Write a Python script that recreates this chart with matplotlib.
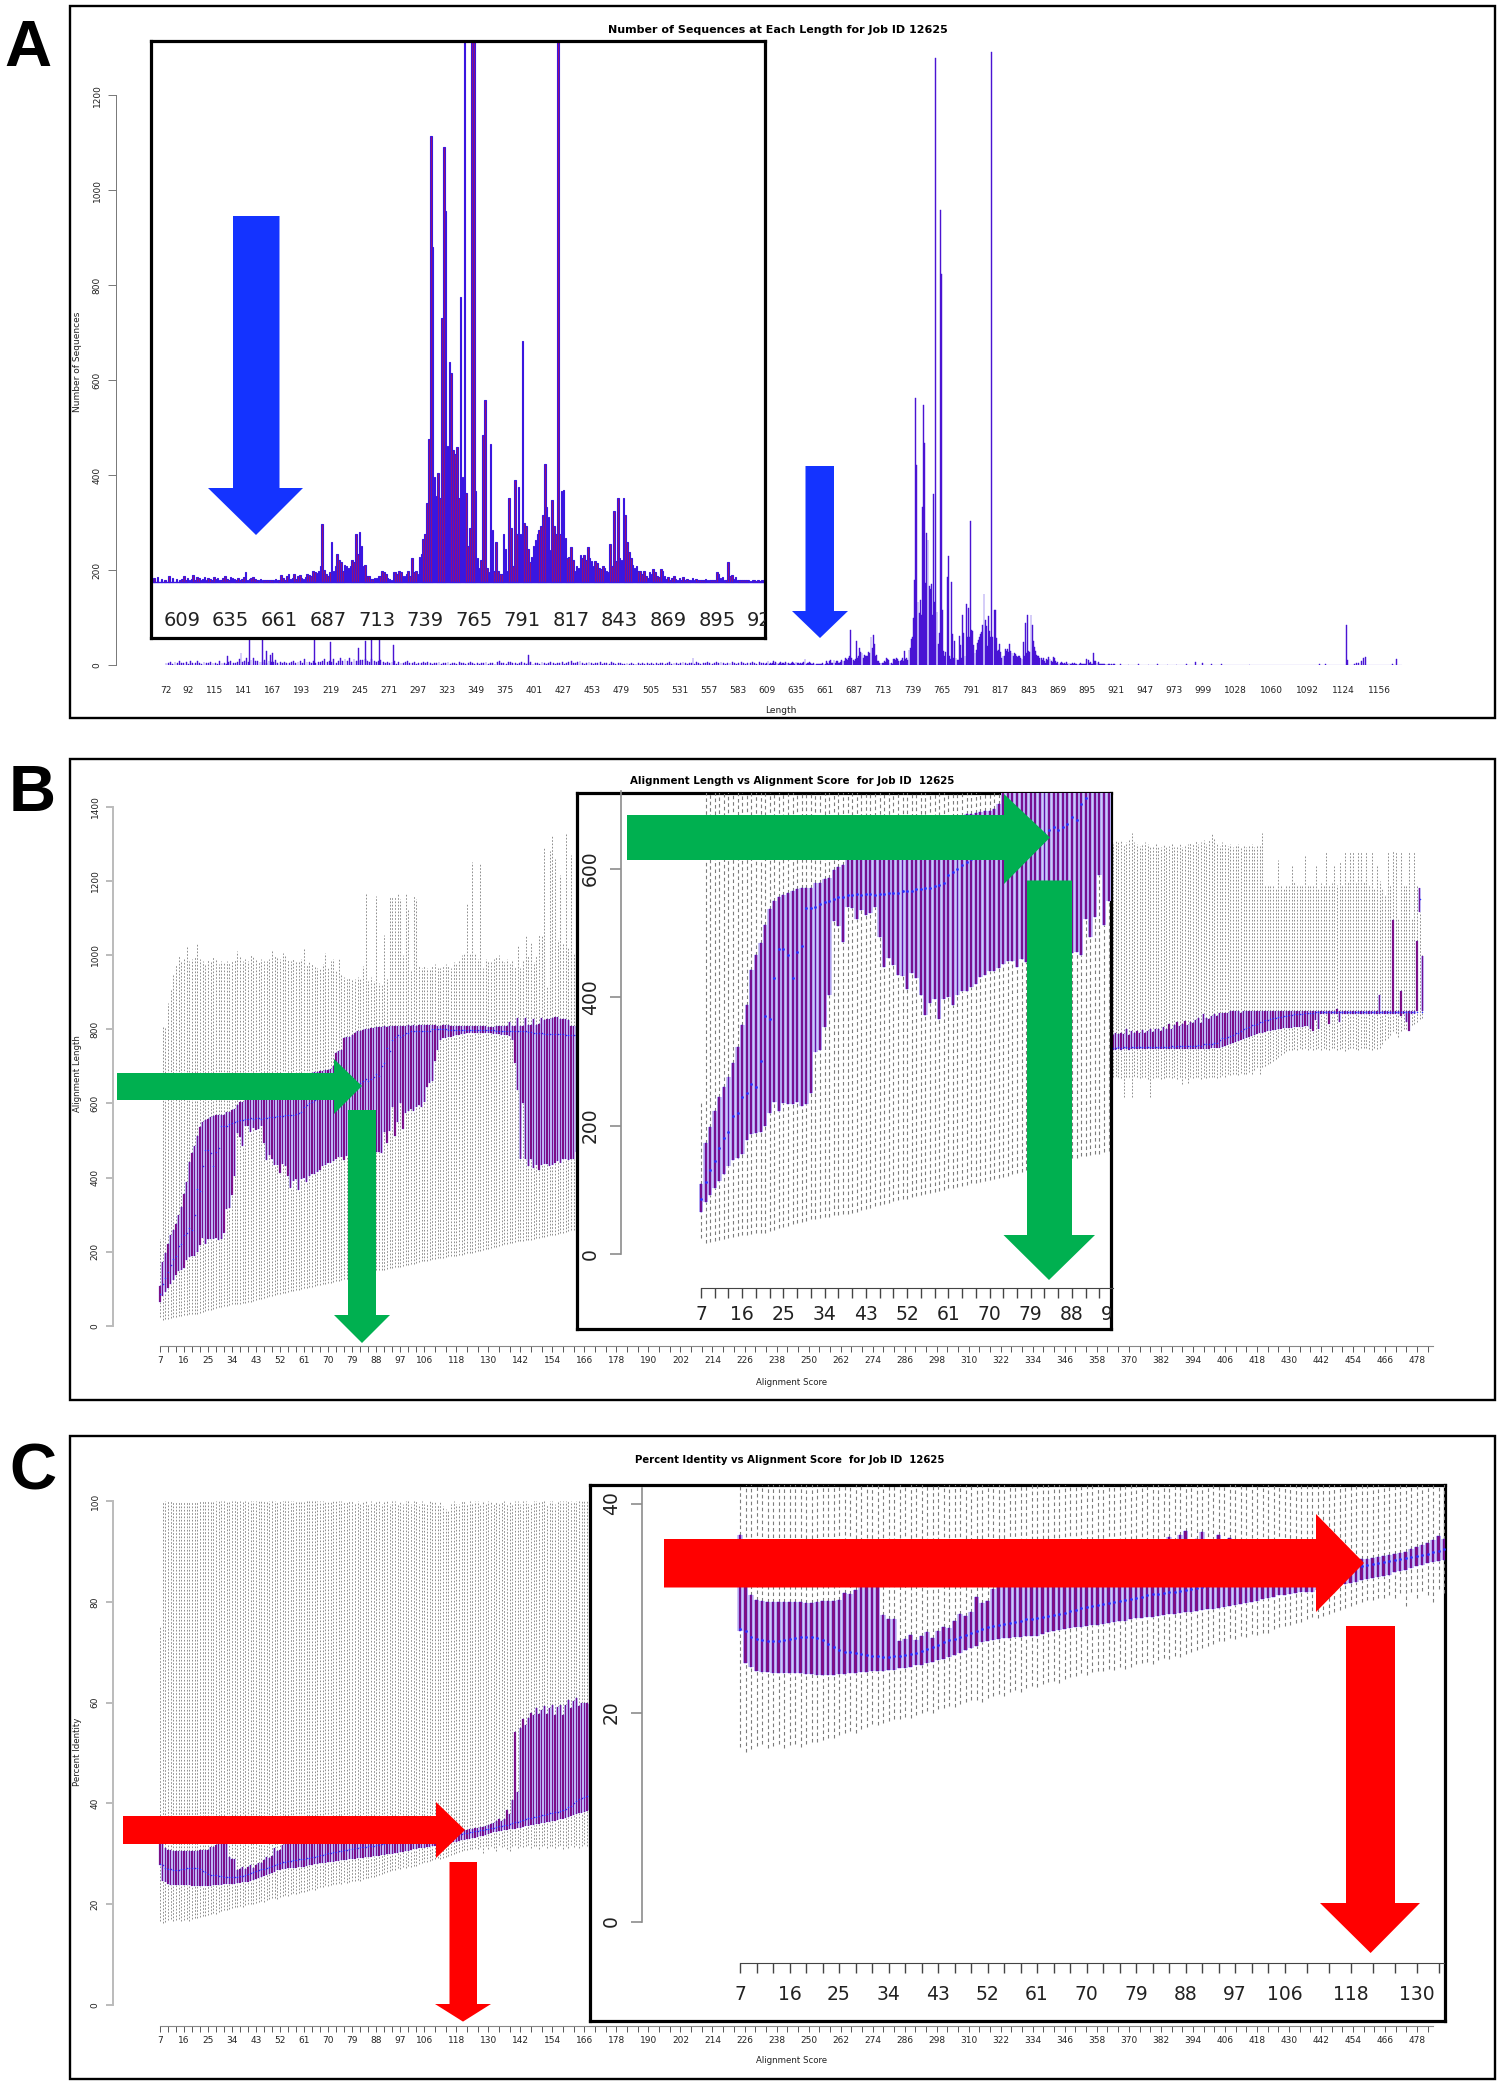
import numpy as np
import matplotlib
matplotlib.use('Agg')
import matplotlib.pyplot as plt
from matplotlib.patches import Polygon, Rectangle

W, H = 1500, 2086

# ---- panel A, sequences per length
low_lengths = list(range(72, 609, 2))
low_counts = [5,4,6,3,7,4,8,5,4,6,
              3,8,5,4,9,5,3,6,4,5,
              7,4,5,3,9,5,4,3,6,8,
              5,4,7,12,6,8,15,7,10,14,
              8,9,6,7,11,5,8,6,7,10,
              4,6,5,7,4,5,6,9,5,6,
              8,5,12,7,6,5,8,5,7,6,
              8,13,6,9,7,12,5,8,14,9,
              12,8,15,7,13,9,8,11,10,13,
              8,6,12,9,7,8,10,6,4,7,
              5,6,8,3,7,5,4,6,8,5,
              4,6,3,5,4,7,4,6,5,3,
              4,5,7,3,5,4,6,3,5,4,
              3,6,4,5,3,4,7,5,3,4,
              3,5,4,6,3,4,5,3,6,9,
              4,5,3,6,7,4,5,3,4,6,
              5,3,4,6,3,5,4,3,6,4,
              3,5,6,4,3,5,4,6,3,4,
              6,8,5,4,6,9,4,3,5,7,
              4,3,5,4,6,3,5,4,3,6,
              4,3,5,4,3,2,4,3,5,3,
              2,4,3,5,2,4,3,5,3,4,
              3,5,4,3,4,6,3,4,5,3,
              4,6,5,3,4,5,3,6,4,3,
              5,4,6,5,3,4,7,5,6,4,
              3,4,5,7,4,3,5,6,4,3,
              4,5,6,4,3,7,5,4,3]
spike_lengths = [127,139,147,158,162,165,167,205,219,244,250,256,263,275,396,543]
spike_counts = [20,26,75,62,30,22,25,62,48,35,50,62,60,42,22,15]
mid_lengths = list(range(609, 922))
mid_counts = [4,8,3,5,2,4,9,3,6,5,
              3,4,6,2,5,4,3,6,4,5,
              2,3,5,7,4,3,6,5,4,3,
              5,3,4,6,13,3,4,5,6,4,
              3,2,4,3,2,3,2,2,3,2,
              4,2,3,9,5,3,8,10,4,5,
              10,4,8,9,5,4,6,10,9,8,14,
              12,11,14,20,73,15,10,8,12,50,
              14,20,35,28,25,14,22,20,18,20,
              28,25,60,35,63,45,20,22,8,8,
              4,4,5,5,8,7,14,12,10,5,
              4,3,12,13,10,14,12,8,8,10,
              14,8,30,12,14,10,32,35,54,60,
              100,180,562,422,132,109,138,106,333,548,
              468,172,278,264,167,161,170,106,360,132,
              1280,112,45,68,958,823,115,30,18,28,
              186,229,18,12,174,65,14,51,14,10,
              10,61,42,14,106,68,20,129,60,120,
              60,304,74,71,42,25,32,46,53,60,
              65,70,85,149,95,82,40,103,71,60,
              1292,60,115,116,56,30,32,44,28,14,
              20,18,34,30,34,28,44,30,26,20,
              26,24,18,16,20,18,14,12,48,20,
              89,26,106,30,28,106,85,50,38,30,
              22,18,20,14,14,10,14,8,5,12,
              10,17,12,8,6,16,14,8,4,6,
              3,5,7,4,3,5,2,6,3,4,
              2,3,5,2,4,3,2,3,2,4,
              2,3,2,2,3,12,10,5,6,3,
              3,25,8,9,4,6,3,2,3,2,
              2,3,2,1,3,2,1,2,1,2,3,1]
high_lengths = [925,932,941,950,958,967,975,984,992,998,1006,1015,1040,1103,1108,
                1127,1128,1134,1136,1138,1140,1142,1144,1168,1172]
high_counts = [2,1,2,1,2,1,1,3,6,5,2,2,1,3,2,85,10,3,5,5,8,14,16,3,12]
a_ticks = [72,92,115,141,167,193,219,245,271,297,323,349,375,401,427,453,479,505,531,557,
           583,609,635,661,687,713,739,765,791,817,843,869,895,921,947,973,999,1028,1060,
           1092,1124,1156]
a_yticks = [0,200,400,600,800,1000,1200]
a_inset_ticks = [609,635,661,687,713,739,765,791,817,843,869,895,921]

# ---- panel B, alignment length by score, left of the inset (scores 7 to 163)
b_q1 = [66,81,92,103,114,125,137,147,150,156,
        178,186,188,190,200,219,237,222,235,234,
        234,237,231,234,250,315,318,353,403,519,
        510,486,540,538,522,535,527,531,540,494,
        447,460,450,435,433,412,437,430,403,372,
        390,397,366,397,400,387,403,409,409,415,
        420,431,435,440,440,445,451,456,456,447,
        459,455,460,458,462,460,465,462,468,465,
        470,468,470,466,522,494,525,590,512,550,
        600,530,575,580,585,580,590,595,590,605,
        645,655,660,715,745,770,775,775,780,780,
        782,785,785,788,788,790,790,790,790,790,
        790,790,790,790,790,788,788,788,785,785,
        785,782,770,710,635,450,600,450,430,450,
        425,435,420,435,438,437,430,435,440,445,
        440,450,450,447,450,450,470,450,470,455,
        455][:157]
b_q3 = [109,172,198,222,244,260,275,298,322,356,
        388,442,466,484,512,537,550,556,558,562,
        565,568,570,570,570,577,578,583,585,597,
        603,605,617,622,625,640,650,660,662,665,
        640,645,648,650,655,655,660,660,665,665,
        668,670,672,675,678,680,680,682,685,685,
        687,688,690,690,692,700,735,740,745,775,
        778,780,785,790,795,795,798,800,800,803,
        803,805,805,805,808,805,808,808,808,808,
        808,808,808,810,808,810,808,810,810,810,
        810,810,810,810,808,808,810,810,810,808,
        808,808,808,808,808,808,808,808,808,808,
        808,808,808,806,806,806,808,808,808,808,
        808,820,808,808,830,808,808,830,812,810,
        828,812,815,830,825,828,828,830,832,832,
        828,828,828,826,808,808,808]
b_med = [85,112,130,145,165,180,190,215,220,245,
         250,265,260,300,370,365,430,475,475,465,
         430,470,480,538,538,540,545,548,550,552,
         555,555,558,558,560,558,560,560,558,560,
         560,562,562,562,565,565,565,568,568,570,
         570,572,575,578,590,595,600,605,610,615,
         620,625,630,640,640,645,650,650,650,655,
         655,650,650,655,650,655,660,665,660,665,
         670,680,675,700,710,750,740,770,780,785,
         780,785,790,790,795,795,795,795,795,795,
         795,795,800,800,800,800,800,800,798,798,
         798,798,798,798,798,798,798,798,798,798,
         798,798,798,798,798,798,795,795,795,795,
         795,795,795,795,795,795,795,795,792,792,
         790,790,790,790,788,788,788,788,788,788,
         786,786,785,785,785,785,785]
b_wlo = [25,17,18,20,22,24,25,27,28,29,
         30,31,32,33,33,36,38,40,42,44,
         46,48,50,52,54,55,56,58,58,60,
         60,62,62,64,66,68,70,72,74,76,
         78,80,82,84,85,86,88,90,92,94,
         95,96,98,100,102,103,104,106,108,110,
         110,112,114,115,116,118,120,122,124,126,
         128,130,132,134,136,138,140,142,144,146,
         148,150,150,152,152,154,155,156,158,160,
         160,162,164,165,167,168,170,172,174,176,
         176,178,180,180,182,182,184,186,188,188,
         190,190,192,192,194,196,197,198,200,202,
         203,205,207,208,210,212,214,216,218,220,
         222,223,225,226,228,229,230,231,232,233,
         235,236,238,240,241,242,244,245,246,248,
         250,252,254,256,258,258,260]
b_whi = [235,805,805,870,905,950,975,1000,985,990,
         1025,985,990,995,1030,990,985,975,990,985,
         995,990,975,985,980,985,980,985,990,1010,
         995,985,990,985,1000,995,990,985,990,985,
         985,990,1010,1000,995,990,1005,1000,990,985,
         990,980,985,990,1015,975,985,975,970,965,
         965,975,1005,965,985,990,960,990,950,940,
         935,940,935,935,940,935,970,1165,930,940,
         930,1160,925,920,1055,935,1160,1160,1155,1165,
         1150,1000,1165,1120,960,1160,1150,970,965,970,
         965,960,970,975,965,965,970,975,970,965,
         980,975,985,1000,1005,1140,1005,1250,1005,990,
         1245,965,990,985,985,990,995,1000,985,980,
         990,975,985,970,1025,965,985,1050,1000,1035,
         980,1000,1055,1055,1290,915,1280,1320,1260,1040,
         1215,1030,1330,1020,1270,1005,1260]

# panel B, right of the inset (scores 364 to 480)
br_q1 = [744,744,746,744,746,746,744,746,746,746,
         746,746,746,746,746,746,746,746,746,746,
         746,746,746,746,746,746,746,746,746,746,
         746,746,746,746,746,746,746,748,748,750,
         750,752,755,758,760,762,765,768,770,773,
         775,780,782,785,788,790,790,792,794,796,
         798,798,800,800,802,802,804,804,806,806,
         806,806,808,808,800,795,825,800,842,842,
         842,815,842,842,842,820,842,842,842,842,
         842,842,842,842,842,842,842,842,842,842,
         842,842,842,842,842,842,842,842,835,842,
         820,795,842,842,849,1115,849]
br_q3 = [784,790,786,790,786,800,785,795,790,795,
         790,798,790,795,800,792,800,800,795,805,
         800,815,800,812,820,808,815,822,812,820,
         818,825,830,818,840,830,828,835,842,835,
         845,845,843,845,848,848,848,848,845,848,
         848,848,848,848,848,848,848,850,850,850,
         850,850,850,850,850,850,850,850,850,850,
         850,850,850,850,850,850,850,850,850,850,
         850,850,850,850,855,850,850,850,850,850,
         850,850,850,850,850,850,850,850,850,850,
         893,850,850,850,850,1093,850,850,904,850,
         850,850,850,850,1039,1180,996]
br_med = [750,750,752,750,752,752,750,752,752,752,
          752,752,752,752,752,752,752,752,752,752,
          752,752,755,752,755,755,755,755,755,755,
          755,755,758,755,760,760,760,760,762,762,
          770,775,775,780,782,785,790,790,795,800,
          802,805,810,812,815,820,820,825,825,828,
          830,830,832,832,835,835,838,838,840,840,
          842,842,844,844,845,845,846,846,846,846,
          846,846,846,846,846,846,846,846,846,846,
          846,846,846,846,846,846,846,846,846,846,
          846,846,846,846,846,846,846,846,846,846,
          846,846,846,846,846,1150,846]
br_wlo = [670,675,672,668,616,670,672,616,675,670,
          668,672,670,665,616,668,670,672,665,668,
          670,672,668,670,665,670,652,668,655,672,
          668,670,672,665,670,668,670,672,670,668,
          672,676,672,680,676,678,680,676,682,678,
          680,685,680,690,697,680,697,700,705,710,
          715,720,725,730,735,740,745,745,746,745,
          748,746,750,745,748,745,746,750,745,748,
          746,745,748,750,745,746,748,741,746,750,
          748,746,745,748,750,748,746,745,748,746,
          750,760,770,775,785,795,790,780,795,800,
          800,795,810,815,820,828,830]
br_whi = [1300,1310,1305,1310,1300,1305,1310,1330,1305,1300,
          1295,1300,1305,1300,1295,1290,1300,1295,1290,1300,
          1290,1295,1300,1290,1295,1300,1290,1295,1300,1305,
          1300,1310,1300,1305,1310,1300,1310,1330,1315,1300,
          1295,1305,1300,1295,1300,1290,1295,1300,1290,1295,
          1290,1295,1300,1290,1295,1295,1330,1190,1185,1190,
          1190,1180,1255,1190,1180,1185,1190,1240,1200,1190,
          1190,1185,1270,1190,1185,1190,1240,1180,1195,1190,
          1280,1190,1195,1240,1190,1250,1190,1280,1200,1280,
          1280,1195,1280,1280,1200,1280,1190,1280,1180,1240,
          1200,1180,1160,1280,1190,1280,1280,1100,1280,1190,
          1190,1280,1100,1280,1190,1180,1000]

# ---- panel C, percent identity by score (scores 7 to 168)
c_q1 = [27.8,24.7,24.4,24.0,23.9,23.9,23.8,23.8,23.8,23.8,
        23.8,23.8,23.7,23.7,23.6,23.6,23.6,23.6,23.7,23.7,
        23.8,23.8,23.9,23.9,24.0,24.0,24.0,24.1,24.1,24.3,
        24.3,24.4,24.5,24.5,24.7,24.8,25.0,25.1,25.3,25.5,
        25.7,26.0,26.2,26.4,26.7,26.8,26.9,27.0,27.1,27.1,
        27.2,27.2,27.3,27.3,27.3,27.5,27.7,27.8,27.9,28.0,
        28.1,28.2,28.2,28.3,28.4,28.4,28.5,28.6,28.7,28.8,
        28.8,28.9,29.0,29.0,29.1,29.1,29.2,29.3,29.4,29.4,
        29.5,29.6,29.6,29.7,29.8,29.9,29.9,30.0,30.1,30.2,
        30.3,30.4,30.5,30.6,30.7,30.9,31.0,31.1,31.2,31.2,
        31.3,31.4,31.5,31.5,31.5,31.7,31.8,32.0,32.1,32.2,
        32.3,32.4,32.5,32.7,32.8,32.9,33.0,33.1,33.2,33.4,
        33.5,33.6,33.8,34.0,34.1,34.3,34.4,34.5,34.6,34.7,
        34.8,34.9,35.0,35.0,35.1,35.2,35.4,35.5,35.6,35.7,
        35.8,35.9,36.0,36.1,36.2,36.3,36.4,36.5,36.6,36.7,
        36.9,37.0,37.2,37.4,37.5,37.6,37.8,38.0,38.1,38.3,38.5,38.6]
c_q3 = [37.0,32.5,31.2,30.8,30.7,30.6,30.6,30.6,30.6,30.6,
        30.6,30.6,30.5,30.5,30.6,30.7,30.7,30.7,30.8,31.4,
        31.3,31.7,32.1,32.4,33.0,34.0,29.3,28.9,28.9,26.8,
        27.0,27.4,26.9,27.3,27.7,27.1,27.8,28.2,28.1,28.8,
        29.4,29.2,29.6,31.1,30.5,30.7,31.8,33.0,33.0,33.2,
        33.2,33.3,33.3,33.4,33.4,33.5,33.5,33.6,33.6,33.7,
        33.8,33.8,33.9,34.0,34.0,34.2,34.2,34.4,34.4,34.5,
        34.6,34.7,34.8,35.0,35.2,35.5,36.0,36.2,36.8,36.4,
        37.0,37.4,36.2,36.6,37.3,36.2,36.5,37.0,36.3,36.7,
        36.0,35.8,35.7,35.5,35.2,35.0,34.8,34.6,34.4,34.3,
        34.2,34.1,34.0,34.0,34.0,34.0,34.1,34.1,34.2,34.3,
        34.4,34.5,34.6,34.7,34.7,34.8,34.9,35.0,35.1,35.2,
        35.3,35.4,35.6,35.8,36.0,36.2,36.5,36.9,36.6,37.0,
        38.6,37.8,40.6,54.2,42.2,55.0,56.7,55.5,57.0,58.0,
        57.5,59.0,57.8,58.5,59.3,57.8,59.0,59.5,57.5,59.2,
        59.5,57.5,59.6,60.5,59.0,60.3,61.0,59.3,60.0,60.0,60.0,59.8]
c_med = [28.0,27.8,27.2,27.0,26.9,26.8,26.8,26.8,26.9,27.0,
         27.1,27.2,27.2,27.2,27.1,26.9,26.6,26.3,26.0,25.8,
         25.8,25.7,25.6,25.5,25.4,25.4,25.3,25.3,25.4,25.4,
         25.5,25.6,25.7,25.9,26.1,26.3,26.5,26.7,26.9,27.0,
         27.2,27.4,27.6,27.8,28.0,28.2,28.3,28.4,28.5,28.6,
         28.7,28.8,28.9,28.9,29.0,29.1,29.2,29.3,29.4,29.5,
         29.7,29.8,30.0,30.1,30.2,30.3,30.4,30.5,30.6,30.7,
         30.8,30.9,31.0,31.1,31.2,31.3,31.3,31.4,31.5,31.5,
         31.6,31.7,31.8,31.9,32.0,32.1,32.2,32.2,32.3,32.4,
         32.5,32.6,32.6,32.7,32.8,32.8,32.9,33.0,33.0,33.1,
         33.1,33.2,33.2,33.3,33.3,33.4,33.4,33.5,33.5,33.6,
         33.7,33.8,33.9,34.0,34.1,34.2,34.3,34.4,34.5,34.6,
         34.7,34.8,34.9,35.0,35.1,35.2,35.4,35.5,35.6,35.7,
         35.8,36.0,36.1,36.3,36.4,36.6,36.8,37.0,37.1,37.2,
         37.3,37.4,37.5,37.6,37.7,37.8,38.0,38.1,38.2,38.3,
         38.5,38.7,38.9,39.2,39.5,40.0,40.5,40.8,41.0,41.2,41.5,41.5]
c_wlo = [16.7,16.2,16.5,16.8,17.0,16.6,16.8,17.0,16.6,16.9,
         17.0,16.7,17.0,17.2,17.2,17.4,17.6,17.6,17.8,18.0,
         18.2,18.0,18.4,18.6,18.9,18.8,19.0,19.2,19.4,19.4,
         19.6,19.5,19.8,20.0,20.1,20.0,20.3,20.4,20.6,20.5,
         20.8,21.0,21.2,21.2,21.0,21.4,21.6,21.8,21.6,22.0,
         22.2,22.0,22.3,22.5,22.4,22.7,22.9,23.0,22.8,23.2,
         23.4,23.5,23.8,23.6,23.9,24.0,24.0,24.2,24.1,24.4,
         24.2,24.4,24.6,24.7,24.8,24.6,25.0,25.2,25.1,25.4,
         25.3,25.6,25.8,26.0,26.2,26.4,26.6,26.8,26.8,27.1,
         27.0,27.3,27.2,27.5,27.4,27.6,27.6,28.0,28.2,28.3,
         28.4,28.6,28.7,28.9,29.1,29.0,29.2,29.4,29.6,29.8,
         30.0,30.2,30.4,30.6,30.8,30.8,31.0,31.0,31.2,31.0,
         31.4,30.2,31.5,31.0,31.6,31.2,30.6,31.8,31.4,31.6,
         31.0,30.6,31.6,31.8,31.2,31.6,31.4,31.5,31.8,31.2,
         31.5,31.6,31.0,31.5,31.8,31.2,31.5,31.6,31.2,31.6,
         31.8,31.0,31.6,31.2,31.7,31.4,31.8,31.2,31.6,31.9,31.5,31.7]
c_whi = ([75.0] + [100.0]*72 + [99.5,100,99.5,100,100,99.5,100,99.5,100,100,
         99.5,100,100,99.5,100,100,99.5,100,99.5,100,
         100,99.5,100,100,99.5,100,99.5,99.5,100,100,
         100,99.5,100,99.0,98.5,98.0,99.5,100,99.5,99.5,
         100,100,99.5,100,99.5,100,100,99.5,100,99.5,
         100,100,99.5,100,99.5,100,100,99.5,100,99.5,
         100,100,99.5,100,100,99.5,99.5,100,100,100,
         100,100,99.5,100,100,99.5,100,100,100,100,100,100,100,100,100,100,100,100,100,100])[:162]

box_y_b = [0,200,400,600,800,1000,1200,1400]
box_y_b_inset = [0,200,400,600]
box_y_c = [0,20,40,60,80,100]
box_y_c_inset = [0,20,40]
x_ticks = list(range(7, 107, 3)) + list(range(110, 483, 4))
x_labels = [7,16,25,34,43,52,61,70,79,88,97,106,118,130,142,154,166,178,190,202,214,226,238,
            250,262,274,286,298,310,322,334,346,358,370,382,394,406,418,430,442,454,466,478]
inset_b_labels = [7,16,25,34,43,52,61,70,79,88,97]
inset_c_labels = [7,16,25,34,43,52,61,70,79,88,97,106,118,130]

plt.rcParams['font.family'] = 'DejaVu Sans'
fig = plt.figure(figsize=(W/100, H/100), dpi=100)
GREY = '#8c8c8c'
TXT = '#222222'


def make_axes(box, xref, xpx, xscale, yref, ypx, yscale, z=1):
    # box is left, top, right, bottom in pixels, scales are pixels per data unit
    x0, y0, x1, y1 = box
    ax = fig.add_axes([x0/W, 1-y1/H, (x1-x0)/W, (y1-y0)/H], zorder=z)
    ax.set_xlim(xref + (x0-xpx)/xscale, xref + (x1-xpx)/xscale)
    ax.set_ylim(yref + (ypx-y1)/yscale, yref + (ypx-y0)/yscale)
    ax.patch.set_alpha(0)
    return ax


def r_style(ax, yticks, ytop, ycol, yw, fs, ticklen):
    ax.spines['top'].set_visible(False)
    ax.spines['right'].set_visible(False)
    ax.spines['left'].set_bounds(0, ytop)
    ax.spines['left'].set_color(ycol)
    ax.spines['left'].set_linewidth(yw)
    ax.set_yticks(yticks)
    ax.tick_params(axis='y', length=ticklen, color=ycol, width=yw, labelsize=fs,
                   labelcolor=TXT, pad=ticklen*0.9)
    for t in ax.get_yticklabels():
        t.set_rotation(90)
        t.set_va('center')


def draw_boxes(ax, s, wlo, q1, med, q3, whi, dash, wlw, edge_lw, ms, bar_w):
    s = np.array(s)
    wlo, q1, med, q3, whi = map(np.array, (wlo, q1, med, q3, whi))
    ax.vlines(s, wlo, q1, colors='#7c7c7c', linestyles=dash, linewidth=wlw, zorder=1)
    ax.vlines(s, q3, whi, colors='#7c7c7c', linestyles=dash, linewidth=wlw, zorder=1)
    ax.bar(s, q3-q1, bottom=q1, width=1.0, color='#cfc8f6', linewidth=0, zorder=2)
    ax.bar(s, q3-q1, bottom=q1, width=bar_w, color='#860f7c', edgecolor='#3a16e0',
           linewidth=edge_lw, zorder=3)
    ax.scatter(s, med, s=ms, color='#2a30ff', linewidths=0, zorder=4)


def inset_frame(box, xref, xpx, xscale, yref, ypx, yscale, labels, label_y, fs):
    fr = make_axes(box, xref, xpx, xscale, yref, ypx, yscale, z=2)
    fr.patch.set_alpha(1)
    fr.patch.set_facecolor('white')
    fr.set_xticks([])
    fr.set_yticks([])
    for sp in fr.spines.values():
        sp.set_linewidth(2.3)
    frac = (box[3]-label_y) / (box[3]-box[1])
    for v in labels:
        fr.text(v, frac, str(v), transform=fr.get_xaxis_transform(), ha='center', va='center',
                fontsize=fs, color=TXT, clip_on=True)
    return fr


# ---- panel A
a_len = np.array(low_lengths + mid_lengths + high_lengths + spike_lengths)
a_cnt = np.array(low_counts + mid_counts + high_counts + spike_counts)
axA = make_axes((116, 40, 1450, 665), 72, 166, 1.119, 0, 665, 0.4746)
axA.bar(a_len, a_cnt, width=0.8, color='#5a12c8', edgecolor='#3a16e0', linewidth=0.3)
axA.plot([72, 1176], [0, 0], color='#3a16e0', lw=0.8)
r_style(axA, a_yticks, 1200, '#777777', 0.7, 6.5, 5.5)
axA.spines['bottom'].set_visible(False)
axA.set_xticks(a_ticks)
axA.set_xticklabels(a_ticks)
axA.tick_params(axis='x', length=0, labelsize=6.5, labelcolor=TXT, pad=15)
axA.set_title('Number of Sequences at Each Length for Job ID 12625', fontsize=8,
              fontweight='bold', x=(778-116)/1334, y=(665-30)/625, va='center', pad=0)
axA.set_xlabel('Length', fontsize=6.5, color=TXT)
axA.xaxis.set_label_coords((781-116)/1334, -(706-665)/625)
axA.set_ylabel('Number of Sequences', fontsize=6.5, color=TXT)
axA.yaxis.set_label_coords(-(116-82)/1334, (665-362)/625)

frA = inset_frame((151, 41, 765, 638), 609, 182, 1.87, 0, 582, 0.793, a_inset_ticks, 621, 14)
frA.bar(a_len, a_cnt, width=0.85, color='#a0106e', edgecolor='#3a16e0', linewidth=0.8)
frA.plot([592, 921], [0, 0], color='#3a16e0', lw=1.0)

# ---- panel B
main_style = dict(dash=(0, (2, 2)), wlw=0.6, edge_lw=0.15, ms=1.2, bar_w=0.5)
zoom_style = dict(dash=(0, (3.2, 2.6)), wlw=0.8, edge_lw=0.3, ms=4, bar_w=0.42)
axB = make_axes((113, 800, 1440, 1346), 7, 160, 2.669, 0, 1326, 0.371)
draw_boxes(axB, np.arange(7, 7+len(b_q1)), b_wlo, b_q1, b_med, b_q3, b_whi, **main_style)
draw_boxes(axB, np.arange(364, 364+len(br_q1)), br_wlo, br_q1, br_med, br_q3, br_whi, **main_style)
r_style(axB, box_y_b, 1400, '#bbbbbb', 1.4, 6.5, 5)
axB.set_xticks(x_ticks)
axB.set_xticklabels([str(t) if t in x_labels else '' for t in x_ticks])
axB.tick_params(axis='x', length=4, width=0.7, color='#555555', labelsize=6.5, labelcolor=TXT, pad=3)
axB.spines['bottom'].set_bounds(7, 484)
axB.spines['bottom'].set_color('#888888')
axB.set_title('Alignment Length vs Alignment Score  for Job ID  12625', fontsize=7.35,
              fontweight='bold', x=(792-113)/1327, y=(1346-781)/546, va='center', pad=0)
axB.set_xlabel('Alignment Score', fontsize=6.2, color=TXT)
axB.xaxis.set_label_coords((792-113)/1327, -(1378-1346)/546)
axB.set_ylabel('Alignment Length', fontsize=6.2, color=TXT)
axB.yaxis.set_label_coords(-(113-82)/1327, (1346-1074)/546)

frB = inset_frame((577, 793, 1111, 1329), 7, 701, 4.58, 0, 1254, 0.6425, inset_b_labels, 1315, 13.5)
inB = make_axes((621, 793, 1111, 1288), 7, 701, 4.58, 0, 1254, 0.6425, z=3)
draw_boxes(inB, np.arange(7, 7+len(b_q1)), b_wlo, b_q1, b_med, b_q3, b_whi, **zoom_style)
r_style(inB, box_y_b_inset, 720, GREY, 1.2, 13.5, 8)
inB.set_xticks([t for t in x_ticks if t <= 94])
inB.set_xticklabels([])
inB.tick_params(axis='x', length=7, width=1.0, color='#444444')
inB.spines['bottom'].set_bounds(7, 97)
inB.spines['bottom'].set_color('#444444')

# ---- panel C
c_s = np.arange(7, 7+len(c_q1))
axC = make_axes((113, 1490, 1440, 2026), 7, 160, 2.669, 0, 2005, 5.04)
draw_boxes(axC, c_s, c_wlo, c_q1, c_med, c_q3, c_whi, **main_style)
r_style(axC, box_y_c, 100, '#bbbbbb', 1.4, 6.5, 5)
axC.set_xticks(x_ticks)
axC.set_xticklabels([str(t) if t in x_labels else '' for t in x_ticks])
axC.tick_params(axis='x', length=4, width=0.7, color='#555555', labelsize=6.5, labelcolor=TXT, pad=3)
axC.spines['bottom'].set_bounds(7, 484)
axC.spines['bottom'].set_color('#888888')
axC.set_title('Percent Identity vs Alignment Score  for Job ID  12625', fontsize=7.25,
              fontweight='bold', x=(790-113)/1327, y=(2026-1460)/536, va='center', pad=0)
axC.set_xlabel('Alignment Score', fontsize=6.2, color=TXT)
axC.xaxis.set_label_coords((792-113)/1327, -(2056-2026)/536)
axC.set_ylabel('Percent Identity', fontsize=6.2, color=TXT)
axC.yaxis.set_label_coords(-(113-82)/1327, (2026-1752)/536)

frC = inset_frame((590, 1485, 1445, 2021), 7, 740, 5.5, 0, 1921.5, 10.45, inset_c_labels, 1994, 13.5)
inC = make_axes((642, 1485, 1445, 1963), 7, 740, 5.5, 0, 1921.5, 10.45, z=3)
draw_boxes(inC, c_s, c_wlo, c_q1, c_med, c_q3, c_whi, **zoom_style)
r_style(inC, box_y_c_inset, 41.5, GREY, 1.2, 13.5, 8)
inC.set_xticks([t for t in x_ticks if t <= 134])
inC.set_xticklabels([])
inC.tick_params(axis='x', length=7, width=1.0, color='#444444')
inC.spines['bottom'].set_bounds(7, 135)
inC.spines['bottom'].set_color('#444444')

# ---- overlay in pixels: panel frames, letters, arrows
ov = fig.add_axes([0, 0, 1, 1], zorder=10)
ov.set_xlim(0, W)
ov.set_ylim(H, 0)
ov.axis('off')

for top, bottom in [(6, 718), (759, 1400), (1436, 2079)]:
    ov.add_patch(Rectangle((70, top), 1425, bottom-top, fill=False, edgecolor='black', lw=1.7))
for letter, x, y in [('A', 4, 66), ('B', 9, 811), ('C', 9, 1489)]:
    ov.text(x, y, letter, fontsize=47, fontweight='bold', family='Liberation Sans', ha='left', va='baseline')


def arrow_down(x0, x1, y0, y1, hx0, hx1, tipx, tipy, col):
    ov.add_patch(Polygon([(x0, y0), (x1, y0), (x1, y1), (hx1, y1), (tipx, tipy), (hx0, y1), (x0, y1)],
                         closed=True, facecolor=col, edgecolor='none'))


def arrow_right(x0, x1, y0, y1, hy0, hy1, tipx, tipy, col):
    ov.add_patch(Polygon([(x0, y0), (x1, y0), (x1, hy0), (tipx, tipy), (x1, hy1), (x1, y1), (x0, y1)],
                         closed=True, facecolor=col, edgecolor='none'))


BLUE, GREEN, RED = '#1433ff', '#00b050', '#ff0000'
arrow_down(233, 279.5, 216, 488, 208, 303, 256, 535, BLUE)
arrow_down(805.5, 834, 466, 611, 792, 848, 820, 638, BLUE)
arrow_right(117, 334, 1073, 1100, 1059, 1114, 362, 1086, GREEN)
arrow_down(348, 376, 1110, 1315, 334, 390, 362, 1343, GREEN)
arrow_right(627, 1004, 815, 860, 794, 884, 1050, 837.5, GREEN)
arrow_down(1027, 1072, 880.5, 1235, 1003.5, 1095, 1049, 1280, GREEN)
arrow_right(123, 436, 1816, 1844, 1802, 1858, 465, 1830, RED)
arrow_down(449.5, 477, 1862, 2004, 435, 491, 463, 2021.6, RED)
arrow_right(664, 1316, 1539, 1587.5, 1514, 1612, 1364, 1563, RED)
arrow_down(1346, 1395, 1626, 1903, 1320, 1420, 1370.6, 1953, RED)

fig.savefig('out.png', dpi=100)
